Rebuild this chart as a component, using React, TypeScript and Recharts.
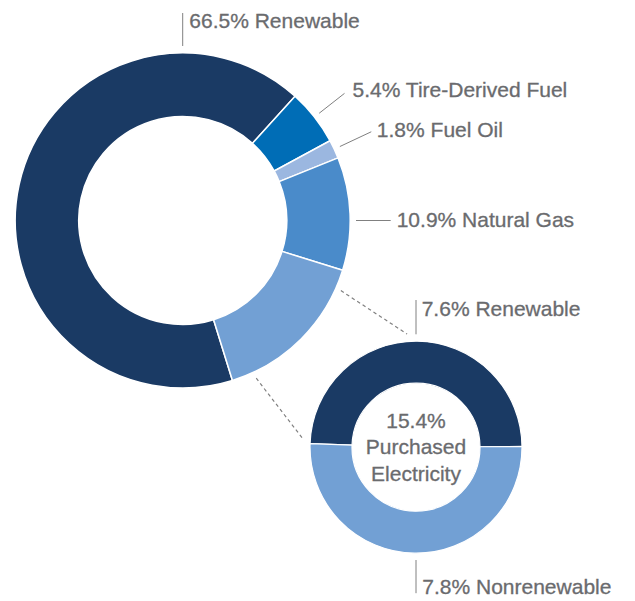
import React from 'react';
import { PieChart, Pie, Cell, Customized } from 'recharts';

// ---- data ----
const energyNames = ['Renewable', 'Tire-Derived Fuel', 'Fuel Oil', 'Natural Gas', 'Purchased Electricity'];
const energyShares = [66.5, 5.4, 1.8, 10.9, 15.4];
const electricityNames = ['Renewable', 'Nonrenewable'];
const electricityShares = [7.6, 7.8];
const centerTitle = ['Purchased', 'Electricity'];

// ---- styles / layout ----
const energyColors = ['#1a3a64', '#006db6', '#9bb7e0', '#4a8bca', '#72a0d4'];
const electricityColors = ['#1a3a64', '#72a0d4'];
const TEXT = '#6a6b6e';
const LINE = '#808080';
const FONT = '"Liberation Sans", Arial, Helvetica, sans-serif';
const FS = 21;
const textStyle = { fill: TEXT, stroke: TEXT, strokeWidth: 0.3, fontSize: FS, fontFamily: FONT };

const BIG = { cx: 182.7, cy: 220.5, inner: 104, outer: 167.5 };
const SMALL = { cx: 416, cy: 447.2, inner: 64, outer: 106 };

const RAD = Math.PI / 180;
const polar = (cx: number, cy: number, r: number, a: number) => ({
  x: cx + r * Math.cos(a * RAD),
  y: cy - r * Math.sin(a * RAD),
});

const energyData = energyNames.map((name, i) => ({ name, value: energyShares[i] }));
const electricityData = electricityNames.map((name, i) => ({ name, value: electricityShares[i] }));

// purchased electricity slice is centered on the lower-right diagonal (-45deg)
const purchasedShare = energyShares[energyShares.length - 1];
const bigStart = -45 - (purchasedShare / 100) * 360 / 2;

const fmt = (v: number) => `${v.toFixed(1)}%`;

// label layout per slice index: angle override, leader radii, text offsets
const bigLabelCfg: ({ angle?: number; r1: number; r2: number; dx: number; dy: number } | null)[] = [
  { angle: 90, r1: 174.5, r2: 207.5, dx: 6.6, dy: 15.3 },
  { r1: 173.6, r2: 205.8, dx: 8, dy: 3.5 },
  { r1: 173.7, r2: 208.4, dx: 5.6, dy: 5.6 },
  { angle: 0, r1: 173.3, r2: 208, dx: 6, dy: 6 },
  null,
];
const smallLabelCfg = [
  { angle: 90, r1: 112.9, r2: 147.2, dx: 5.7, dy: 15.7 },
  { angle: 270, r1: 112.8, r2: 146, dx: 6.3, dy: 1 },
];

const makeLabel = (cfgs: any[], names: string[], values: number[]) => (props: any) => {
  const { cx, cy, midAngle, index } = props;
  const cfg = cfgs[index];
  if (!cfg) return null;
  const a = cfg.angle !== undefined ? cfg.angle : midAngle;
  const p1 = polar(cx, cy, cfg.r1, a);
  const p2 = polar(cx, cy, cfg.r2, a);
  return (
    <g key={`lbl-${index}`}>
      <line x1={p1.x} y1={p1.y} x2={p2.x} y2={p2.y} stroke={LINE} strokeWidth={1} />
      <text x={p2.x + cfg.dx} y={p2.y + cfg.dy} {...textStyle} textAnchor="start">
        {`${fmt(values[index])} ${names[index]}`}
      </text>
    </g>
  );
};

const Decorations = () => {
  const u1 = polar(BIG.cx, BIG.cy, 173, -23.9);
  const u2 = polar(SMALL.cx, SMALL.cy, 113.5, 94.5);
  const l1 = polar(BIG.cx, BIG.cy, 174, -65);
  const l2 = polar(SMALL.cx, SMALL.cy, 113, 176);
  const total = electricityShares.reduce((s, v) => s + v, 0);
  return (
    <g>
      <line x1={u1.x} y1={u1.y} x2={u2.x} y2={u2.y} stroke={LINE} strokeWidth={1.2} strokeDasharray="3.5 3" />
      <line x1={l1.x} y1={l1.y} x2={l2.x} y2={l2.y} stroke={LINE} strokeWidth={1.2} strokeDasharray="3.5 3" />
      <text x={SMALL.cx} y={SMALL.cy - 19.5} {...textStyle} textAnchor="middle">
        {fmt(total)}
      </text>
      {centerTitle.map((t, i) => (
        <text key={t} x={SMALL.cx} y={SMALL.cy + 6.8 + i * 26.5} {...textStyle} textAnchor="middle">
          {t}
        </text>
      ))}
    </g>
  );
};

export default function App() {
  return (
    <div style={{ position: 'absolute', left: 0, top: 0, width: 635, height: 601, background: '#fff' }}>
      <PieChart width={635} height={601} margin={{ top: 0, right: 0, bottom: 0, left: 0 }}>
        <Pie
          data={energyData}
          dataKey="value"
          nameKey="name"
          cx={BIG.cx}
          cy={BIG.cy}
          innerRadius={BIG.inner}
          outerRadius={BIG.outer}
          startAngle={bigStart}
          endAngle={bigStart - 360}
          stroke="#ffffff"
          strokeWidth={1.5}
          isAnimationActive={false}
          labelLine={false}
          label={makeLabel(bigLabelCfg, energyNames, energyShares)}
        >
          {energyData.map((d, i) => (
            <Cell key={d.name} fill={energyColors[i]} />
          ))}
        </Pie>
        <Pie
          data={electricityData}
          dataKey="value"
          nameKey="name"
          cx={SMALL.cx}
          cy={SMALL.cy}
          innerRadius={SMALL.inner}
          outerRadius={SMALL.outer}
          startAngle={0.4}
          endAngle={360.4}
          stroke="#ffffff"
          strokeWidth={1.2}
          isAnimationActive={false}
          labelLine={false}
          label={makeLabel(smallLabelCfg, electricityNames, electricityShares)}
        >
          {electricityData.map((d, i) => (
            <Cell key={d.name} fill={electricityColors[i]} />
          ))}
        </Pie>
        <Customized component={Decorations} />
      </PieChart>
    </div>
  );
}
